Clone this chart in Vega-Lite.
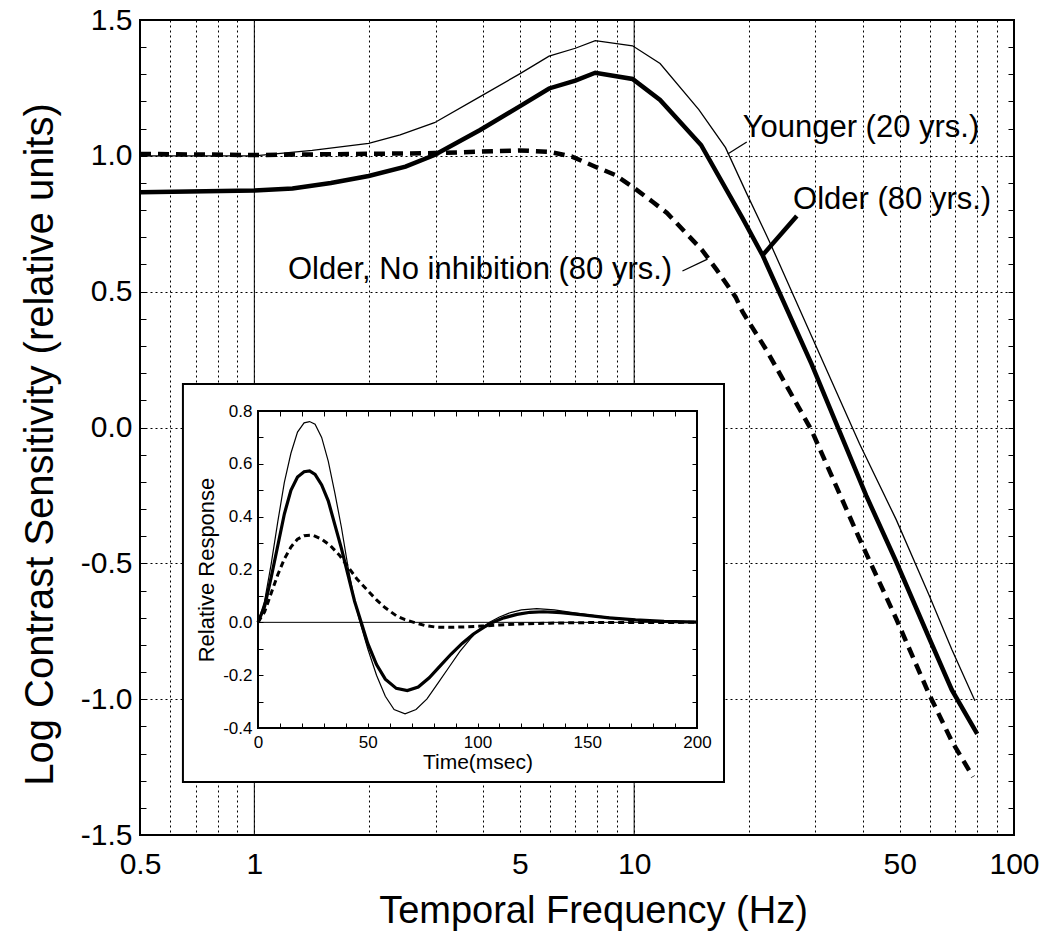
{
  "$schema": "https://vega.github.io/schema/vega-lite/v6.json",
  "width": 874,
  "height": 815,
  "autosize": {"type": "none"},
  "padding": {"left": 140, "top": 20, "right": 36, "bottom": 110},
  "background": "white",
  "config": {
    "view": {"stroke": "black", "strokeWidth": 2},
    "font": "Liberation Sans",
    "axis": {"labelFont": "Liberation Sans", "titleFont": "Liberation Sans", "labelColor": "black", "titleColor": "black", "titleFontWeight": "normal", "tickColor": "black", "domainColor": "black"},
    "text": {"font": "Liberation Sans", "color": "black"}
  },
  "datasets": {
    "csf": [
      {"f": 0.5, "v": 1.0, "s": "younger"}, {"f": 0.7, "v": 1.0, "s": "younger"}, {"f": 1, "v": 1.0, "s": "younger"}, {"f": 1.42, "v": 1.02, "s": "younger"}, {"f": 2.0, "v": 1.046, "s": "younger"}, {"f": 2.42, "v": 1.077, "s": "younger"}, {"f": 2.98, "v": 1.122, "s": "younger"}, {"f": 3.93, "v": 1.218, "s": "younger"}, {"f": 4.97, "v": 1.3, "s": "younger"}, {"f": 5.97, "v": 1.367, "s": "younger"}, {"f": 7.0, "v": 1.396, "s": "younger"}, {"f": 7.9, "v": 1.424, "s": "younger"}, {"f": 9.9, "v": 1.405, "s": "younger"}, {"f": 11.7, "v": 1.34, "s": "younger"}, {"f": 14.8, "v": 1.17, "s": "younger"}, {"f": 17.4, "v": 1.03, "s": "younger"}, {"f": 19.8, "v": 0.86, "s": "younger"}, {"f": 22.7, "v": 0.685, "s": "younger"}, {"f": 29.3, "v": 0.337, "s": "younger"}, {"f": 39.2, "v": -0.06, "s": "younger"}, {"f": 49, "v": -0.34, "s": "younger"}, {"f": 59.7, "v": -0.616, "s": "younger"}, {"f": 68.6, "v": -0.817, "s": "younger"}, {"f": 78.9, "v": -1.006, "s": "younger"},
      {"f": 0.5, "v": 0.866, "s": "older"}, {"f": 1, "v": 0.872, "s": "older"}, {"f": 1.26, "v": 0.88, "s": "older"}, {"f": 1.59, "v": 0.9, "s": "older"}, {"f": 2.0, "v": 0.926, "s": "older"}, {"f": 2.5, "v": 0.96, "s": "older"}, {"f": 2.98, "v": 1.003, "s": "older"}, {"f": 3.93, "v": 1.095, "s": "older"}, {"f": 4.97, "v": 1.18, "s": "older"}, {"f": 5.97, "v": 1.248, "s": "older"}, {"f": 7.0, "v": 1.277, "s": "older"}, {"f": 7.9, "v": 1.306, "s": "older"}, {"f": 9.9, "v": 1.283, "s": "older"}, {"f": 11.7, "v": 1.206, "s": "older"}, {"f": 15.0, "v": 1.04, "s": "older"}, {"f": 19.3, "v": 0.77, "s": "older"}, {"f": 21.8, "v": 0.633, "s": "older"}, {"f": 29.3, "v": 0.234, "s": "older"}, {"f": 40.8, "v": -0.25, "s": "older"}, {"f": 49, "v": -0.495, "s": "older"}, {"f": 59.7, "v": -0.773, "s": "older"}, {"f": 68.6, "v": -0.966, "s": "older"}, {"f": 80, "v": -1.128, "s": "older"},
      {"f": 0.5, "v": 1.007, "s": "noinh"}, {"f": 1, "v": 1.003, "s": "noinh"}, {"f": 2.98, "v": 1.01, "s": "noinh"}, {"f": 4.97, "v": 1.02, "s": "noinh"}, {"f": 5.97, "v": 1.015, "s": "noinh"}, {"f": 6.86, "v": 0.997, "s": "noinh"}, {"f": 7.9, "v": 0.96, "s": "noinh"}, {"f": 8.9, "v": 0.93, "s": "noinh"}, {"f": 9.9, "v": 0.886, "s": "noinh"}, {"f": 11.2, "v": 0.83, "s": "noinh"}, {"f": 12.2, "v": 0.79, "s": "noinh"}, {"f": 13.7, "v": 0.715, "s": "noinh"}, {"f": 15.1, "v": 0.653, "s": "noinh"}, {"f": 16.5, "v": 0.58, "s": "noinh"}, {"f": 18.5, "v": 0.48, "s": "noinh"}, {"f": 19.3, "v": 0.425, "s": "noinh"}, {"f": 22.3, "v": 0.285, "s": "noinh"}, {"f": 29.3, "v": -0.01, "s": "noinh"}, {"f": 39.2, "v": -0.41, "s": "noinh"}, {"f": 49, "v": -0.705, "s": "noinh"}, {"f": 59.7, "v": -0.98, "s": "noinh"}, {"f": 68.6, "v": -1.155, "s": "noinh"}, {"f": 78, "v": -1.286, "s": "noinh"}
    ],
    "irf": [
      {"t": 0, "r": 0, "s": "younger"}, {"t": 3, "r": 0.08, "s": "younger"}, {"t": 6, "r": 0.22, "s": "younger"}, {"t": 9, "r": 0.38, "s": "younger"}, {"t": 12, "r": 0.53, "s": "younger"}, {"t": 15, "r": 0.64, "s": "younger"}, {"t": 18, "r": 0.72, "s": "younger"}, {"t": 21, "r": 0.755, "s": "younger"}, {"t": 23.5, "r": 0.76, "s": "younger"}, {"t": 26, "r": 0.75, "s": "younger"}, {"t": 29, "r": 0.7, "s": "younger"}, {"t": 32, "r": 0.61, "s": "younger"}, {"t": 35, "r": 0.49, "s": "younger"}, {"t": 38, "r": 0.36, "s": "younger"}, {"t": 41, "r": 0.21, "s": "younger"}, {"t": 44, "r": 0.08, "s": "younger"}, {"t": 46.5, "r": 0, "s": "younger"}, {"t": 50, "r": -0.1, "s": "younger"}, {"t": 54, "r": -0.2, "s": "younger"}, {"t": 58, "r": -0.28, "s": "younger"}, {"t": 62, "r": -0.33, "s": "younger"}, {"t": 67, "r": -0.346, "s": "younger"}, {"t": 72, "r": -0.33, "s": "younger"}, {"t": 77, "r": -0.29, "s": "younger"}, {"t": 82, "r": -0.23, "s": "younger"}, {"t": 87, "r": -0.17, "s": "younger"}, {"t": 92, "r": -0.11, "s": "younger"}, {"t": 97, "r": -0.06, "s": "younger"}, {"t": 101, "r": -0.025, "s": "younger"}, {"t": 105.5, "r": 0, "s": "younger"}, {"t": 110, "r": 0.02, "s": "younger"}, {"t": 115, "r": 0.037, "s": "younger"}, {"t": 120, "r": 0.047, "s": "younger"}, {"t": 127, "r": 0.052, "s": "younger"}, {"t": 135, "r": 0.047, "s": "younger"}, {"t": 145, "r": 0.035, "s": "younger"}, {"t": 155, "r": 0.024, "s": "younger"}, {"t": 165, "r": 0.015, "s": "younger"}, {"t": 175, "r": 0.008, "s": "younger"}, {"t": 185, "r": 0.004, "s": "younger"}, {"t": 200, "r": 0.001, "s": "younger"},
      {"t": 0, "r": 0, "s": "older"}, {"t": 3, "r": 0.06, "s": "older"}, {"t": 6, "r": 0.17, "s": "older"}, {"t": 9, "r": 0.29, "s": "older"}, {"t": 12, "r": 0.41, "s": "older"}, {"t": 15, "r": 0.5, "s": "older"}, {"t": 18, "r": 0.55, "s": "older"}, {"t": 21, "r": 0.57, "s": "older"}, {"t": 23.5, "r": 0.573, "s": "older"}, {"t": 26, "r": 0.56, "s": "older"}, {"t": 29, "r": 0.52, "s": "older"}, {"t": 32, "r": 0.46, "s": "older"}, {"t": 35, "r": 0.37, "s": "older"}, {"t": 38, "r": 0.28, "s": "older"}, {"t": 41, "r": 0.18, "s": "older"}, {"t": 44, "r": 0.08, "s": "older"}, {"t": 47, "r": 0, "s": "older"}, {"t": 50, "r": -0.08, "s": "older"}, {"t": 54, "r": -0.16, "s": "older"}, {"t": 58, "r": -0.215, "s": "older"}, {"t": 63, "r": -0.25, "s": "older"}, {"t": 68, "r": -0.258, "s": "older"}, {"t": 73, "r": -0.245, "s": "older"}, {"t": 78, "r": -0.21, "s": "older"}, {"t": 83, "r": -0.165, "s": "older"}, {"t": 88, "r": -0.12, "s": "older"}, {"t": 93, "r": -0.08, "s": "older"}, {"t": 98, "r": -0.045, "s": "older"}, {"t": 103, "r": -0.018, "s": "older"}, {"t": 107, "r": 0, "s": "older"}, {"t": 112, "r": 0.017, "s": "older"}, {"t": 118, "r": 0.03, "s": "older"}, {"t": 124, "r": 0.038, "s": "older"}, {"t": 130, "r": 0.04, "s": "older"}, {"t": 138, "r": 0.037, "s": "older"}, {"t": 148, "r": 0.028, "s": "older"}, {"t": 160, "r": 0.017, "s": "older"}, {"t": 172, "r": 0.009, "s": "older"}, {"t": 185, "r": 0.004, "s": "older"}, {"t": 200, "r": 0.001, "s": "older"},
      {"t": 0, "r": 0, "s": "noinh"}, {"t": 3, "r": 0.04, "s": "noinh"}, {"t": 6, "r": 0.11, "s": "noinh"}, {"t": 9, "r": 0.18, "s": "noinh"}, {"t": 12, "r": 0.24, "s": "noinh"}, {"t": 15, "r": 0.285, "s": "noinh"}, {"t": 18, "r": 0.315, "s": "noinh"}, {"t": 21, "r": 0.328, "s": "noinh"}, {"t": 25, "r": 0.33, "s": "noinh"}, {"t": 29, "r": 0.315, "s": "noinh"}, {"t": 33, "r": 0.29, "s": "noinh"}, {"t": 37, "r": 0.255, "s": "noinh"}, {"t": 41, "r": 0.21, "s": "noinh"}, {"t": 45, "r": 0.165, "s": "noinh"}, {"t": 50, "r": 0.12, "s": "noinh"}, {"t": 54, "r": 0.085, "s": "noinh"}, {"t": 58, "r": 0.055, "s": "noinh"}, {"t": 63, "r": 0.025, "s": "noinh"}, {"t": 67, "r": 0.01, "s": "noinh"}, {"t": 71, "r": 0, "s": "noinh"}, {"t": 76, "r": -0.012, "s": "noinh"}, {"t": 81, "r": -0.018, "s": "noinh"}, {"t": 88, "r": -0.019, "s": "noinh"}, {"t": 95, "r": -0.017, "s": "noinh"}, {"t": 102, "r": -0.014, "s": "noinh"}, {"t": 110, "r": -0.01, "s": "noinh"}, {"t": 120, "r": -0.006, "s": "noinh"}, {"t": 133, "r": -0.003, "s": "noinh"}, {"t": 150, "r": -0.001, "s": "noinh"}, {"t": 200, "r": 0, "s": "noinh"}
    ],
    "decades": [{"f": 1}, {"f": 10}],
    "notes": [
      {"f": 19.3, "v": 1.1025, "label": "Younger (20 yrs.)"},
      {"f": 26.2, "v": 0.8375, "label": "Older (80 yrs.)"},
      {"f": 1.226, "v": 0.58, "label": "Older, No inhibition (80 yrs.)"}
    ],
    "leaders": [
      {"who": "younger", "f": 17.63, "v": 1.0068, "f2": 19.79, "v2": 1.051},
      {"who": "older", "f": 21.8, "v": 0.635, "f2": 26.8, "v2": 0.7786},
      {"who": "noinh", "f": 13.4, "v": 0.576, "f2": 15.6, "v2": 0.62}
    ],
    "insetBox": [{"t0": -34.2, "t1": 212.3, "r0": -0.604, "r1": 0.902}],
    "insetFrame": [{"t0": 0, "t1": 200, "r0": -0.4, "r1": 0.8}],
    "zeroLine": [{"t0": 0, "t1": 200, "r": 0}]
  },
  "layer": [
    {
      "layer": [
        {
          "data": {"name": "decades"},
          "mark": {"type": "rule", "stroke": "black", "strokeWidth": 1},
          "encoding": {
            "x": {"field": "f", "type": "quantitative", "scale": {"type": "log", "domain": [0.5, 100], "nice": false, "zero": false},
              "axis": {"orient": "bottom", "values": [0.5, 0.6, 0.7, 0.8, 0.9, 1, 2, 3, 4, 5, 6, 7, 8, 9, 10, 20, 30, 40, 50, 60, 70, 80, 90, 100],
                "labelExpr": "indexof([0.5, 1, 5, 10, 50, 100], datum.value) >= 0 ? format(datum.value, '~g') : ''",
                "ticks": false, "domain": false, "grid": true, "gridColor": "black", "gridDash": [2, 3], "gridWidth": 1, "gridOpacity": 1,
                "labelFontSize": 30, "labelPadding": 14, "labelOverlap": false, "labelFlush": false, "labelBound": false,
                "title": "Temporal Frequency (Hz)", "titleFontSize": 38, "titlePadding": 13, "titleX": 453}}
          }
        },
        {
          "data": {"name": "csf"},
          "transform": [{"filter": "datum.s == 'younger'"}],
          "mark": {"type": "line", "stroke": "black", "strokeWidth": 1.3},
          "encoding": {
            "x": {"field": "f", "type": "quantitative", "scale": {"type": "log", "domain": [0.5, 100], "nice": false, "zero": false}},
            "y": {"field": "v", "type": "quantitative", "scale": {"domain": [-1.5, 1.5], "nice": false, "zero": false},
              "axis": {"orient": "left", "values": [-1.5, -1.4, -1.3, -1.2, -1.1, -1.0, -0.9, -0.8, -0.7, -0.6, -0.5, -0.4, -0.3, -0.2, -0.1, 0, 0.1, 0.2, 0.3, 0.4, 0.5, 0.6, 0.7, 0.8, 0.9, 1.0, 1.1, 1.2, 1.3, 1.4, 1.5],
                "labelExpr": "abs(datum.value * 2 - round(datum.value * 2)) < 0.01 ? replace(format(datum.value, '.1f'), '\u2212', '-') : ''",
                "tickSize": -6, "tickWidth": 1, "domain": false, "grid": true, "gridColor": "black", "gridDash": [2, 3], "gridWidth": 1,
                "gridOpacity": {"condition": {"test": "abs(datum.value * 2 - round(datum.value * 2)) < 0.01", "value": 1}, "value": 0},
                "labelFontSize": 30, "labelPadding": 14, "labelOverlap": false, "labelFlush": false, "labelBound": false,
                "title": "Log Contrast Sensitivity (relative units)", "titleFontSize": 40, "titlePadding": 20, "titleY": 424}}
          }
        },
        {
          "data": {"name": "csf"},
          "transform": [{"filter": "datum.s == 'older'"}],
          "mark": {"type": "line", "stroke": "black", "strokeWidth": 4.5},
          "encoding": {
            "x": {"field": "f", "type": "quantitative", "scale": {"type": "log", "domain": [0.5, 100], "nice": false, "zero": false}},
            "y": {"field": "v", "type": "quantitative", "scale": {"domain": [-1.5, 1.5], "nice": false, "zero": false},
              "axis": {"orient": "right", "values": [-1.5, -1.4, -1.3, -1.2, -1.1, -1.0, -0.9, -0.8, -0.7, -0.6, -0.5, -0.4, -0.3, -0.2, -0.1, 0, 0.1, 0.2, 0.3, 0.4, 0.5, 0.6, 0.7, 0.8, 0.9, 1.0, 1.1, 1.2, 1.3, 1.4, 1.5],
                "labels": false, "tickSize": -6, "tickWidth": 1, "domain": false, "grid": false, "title": null}}
          }
        },
        {
          "data": {"name": "csf"},
          "transform": [{"filter": "datum.s == 'noinh'"}],
          "mark": {"type": "line", "stroke": "black", "strokeWidth": 4.5, "strokeDash": [11, 7], "strokeCap": "butt"},
          "encoding": {
            "x": {"field": "f", "type": "quantitative", "scale": {"type": "log", "domain": [0.5, 100], "nice": false, "zero": false}},
            "y": {"field": "v", "type": "quantitative", "scale": {"domain": [-1.5, 1.5], "nice": false, "zero": false}, "axis": null}
          }
        },
        {
          "data": {"name": "notes"},
          "mark": {"type": "text", "align": "left", "baseline": "middle", "fontSize": 31, "font": "Liberation Sans", "color": "black"},
          "encoding": {
            "x": {"field": "f", "type": "quantitative", "scale": {"type": "log", "domain": [0.5, 100], "nice": false, "zero": false}},
            "y": {"field": "v", "type": "quantitative", "scale": {"domain": [-1.5, 1.5], "nice": false, "zero": false}, "axis": null},
            "text": {"field": "label"}
          }
        },
        {
          "data": {"name": "leaders"},
          "transform": [{"filter": "datum.who != 'older'"}],
          "mark": {"type": "rule", "stroke": "black", "strokeWidth": 1.3},
          "encoding": {
            "x": {"field": "f", "type": "quantitative", "scale": {"type": "log", "domain": [0.5, 100], "nice": false, "zero": false}},
            "x2": {"field": "f2"},
            "y": {"field": "v", "type": "quantitative", "scale": {"domain": [-1.5, 1.5], "nice": false, "zero": false}, "axis": null},
            "y2": {"field": "v2"}
          }
        },
        {
          "data": {"name": "leaders"},
          "transform": [{"filter": "datum.who == 'older'"}],
          "mark": {"type": "rule", "stroke": "black", "strokeWidth": 4.5},
          "encoding": {
            "x": {"field": "f", "type": "quantitative", "scale": {"type": "log", "domain": [0.5, 100], "nice": false, "zero": false}},
            "x2": {"field": "f2"},
            "y": {"field": "v", "type": "quantitative", "scale": {"domain": [-1.5, 1.5], "nice": false, "zero": false}, "axis": null},
            "y2": {"field": "v2"}
          }
        }
      ],
      "resolve": {"axis": {"y": "independent"}}
    },
    {
      "layer": [
        {
          "data": {"name": "insetBox"},
          "mark": {"type": "rect", "fill": "white", "stroke": "black", "strokeWidth": 2},
          "encoding": {
            "x": {"field": "t0", "type": "quantitative", "scale": {"domain": [0, 200], "range": [118, 557], "nice": false, "zero": false},
              "axis": {"orient": "bottom", "offset": -107, "zindex": 1, "values": [0, 10, 20, 30, 40, 50, 60, 70, 80, 90, 100, 110, 120, 130, 140, 150, 160, 170, 180, 190, 200],
                "labelExpr": "datum.value % 50 == 0 ? format(datum.value, 'd') : ''",
                "tickSize": -5, "tickWidth": 1, "domain": false, "grid": false, "labelFontSize": 17, "labelPadding": 11, "labelFlush": false, "labelOverlap": false, "labelBound": false,
                "title": "Time(msec)", "titleFontSize": 21, "titlePadding": 1}},
            "x2": {"field": "t1"},
            "y": {"field": "r0", "type": "quantitative", "scale": {"domain": [-0.4, 0.8], "range": [708, 391], "nice": false, "zero": false},
              "axis": {"orient": "left", "offset": -118, "zindex": 1, "values": [-0.4, -0.3, -0.2, -0.1, 0, 0.1, 0.2, 0.3, 0.4, 0.5, 0.6, 0.7, 0.8],
                "labelExpr": "abs(datum.value * 5 - round(datum.value * 5)) < 0.01 ? replace(format(datum.value, '.1f'), '\u2212', '-') : ''",
                "tickSize": -5, "tickWidth": 1, "domain": false, "grid": false, "labelFontSize": 17, "labelPadding": 11, "labelFlush": false, "labelOverlap": false, "labelBound": false,
                "title": "Relative Response", "titleFontSize": 22, "titlePadding": 4}},
            "y2": {"field": "r1"}
          }
        },
        {
          "data": {"name": "zeroLine"},
          "mark": {"type": "rule", "stroke": "black", "strokeWidth": 1},
          "encoding": {
            "x": {"field": "t0", "type": "quantitative", "scale": {"domain": [0, 200], "range": [118, 557], "nice": false, "zero": false}, "axis": null},
            "x2": {"field": "t1"},
            "y": {"field": "r", "type": "quantitative", "scale": {"domain": [-0.4, 0.8], "range": [708, 391], "nice": false, "zero": false}, "axis": null}
          }
        },
        {
          "data": {"name": "irf"},
          "transform": [{"filter": "datum.s == 'younger'"}],
          "mark": {"type": "line", "stroke": "black", "strokeWidth": 1.2},
          "encoding": {
            "x": {"field": "t", "type": "quantitative", "scale": {"domain": [0, 200], "range": [118, 557], "nice": false, "zero": false}, "axis": null},
            "y": {"field": "r", "type": "quantitative", "scale": {"domain": [-0.4, 0.8], "range": [708, 391], "nice": false, "zero": false}, "axis": null}
          }
        },
        {
          "data": {"name": "irf"},
          "transform": [{"filter": "datum.s == 'older'"}],
          "mark": {"type": "line", "stroke": "black", "strokeWidth": 3.2},
          "encoding": {
            "x": {"field": "t", "type": "quantitative", "scale": {"domain": [0, 200], "range": [118, 557], "nice": false, "zero": false}, "axis": null},
            "y": {"field": "r", "type": "quantitative", "scale": {"domain": [-0.4, 0.8], "range": [708, 391], "nice": false, "zero": false}, "axis": null}
          }
        },
        {
          "data": {"name": "irf"},
          "transform": [{"filter": "datum.s == 'noinh'"}],
          "mark": {"type": "line", "stroke": "black", "strokeWidth": 3, "strokeDash": [6, 4], "strokeCap": "butt"},
          "encoding": {
            "x": {"field": "t", "type": "quantitative", "scale": {"domain": [0, 200], "range": [118, 557], "nice": false, "zero": false}, "axis": null},
            "y": {"field": "r", "type": "quantitative", "scale": {"domain": [-0.4, 0.8], "range": [708, 391], "nice": false, "zero": false}, "axis": null}
          }
        },
        {
          "data": {"name": "insetFrame"},
          "mark": {"type": "rect", "fill": null, "fillOpacity": 0, "stroke": "black", "strokeWidth": 2},
          "encoding": {
            "x": {"field": "t0", "type": "quantitative", "scale": {"domain": [0, 200], "range": [118, 557], "nice": false, "zero": false},
              "axis": {"orient": "top", "offset": -391, "zindex": 1, "values": [0, 10, 20, 30, 40, 50, 60, 70, 80, 90, 100, 110, 120, 130, 140, 150, 160, 170, 180, 190, 200],
                "labels": false, "tickSize": -5, "tickWidth": 1, "domain": false, "grid": false, "title": null}},
            "x2": {"field": "t1"},
            "y": {"field": "r0", "type": "quantitative", "scale": {"domain": [-0.4, 0.8], "range": [708, 391], "nice": false, "zero": false},
              "axis": {"orient": "right", "offset": -317, "zindex": 1, "values": [-0.4, -0.3, -0.2, -0.1, 0, 0.1, 0.2, 0.3, 0.4, 0.5, 0.6, 0.7, 0.8],
                "labels": false, "tickSize": -5, "tickWidth": 1, "domain": false, "grid": false, "title": null}},
            "y2": {"field": "r1"}
          }
        }
      ],
      "resolve": {"axis": {"x": "independent", "y": "independent"}}
    }
  ],
  "resolve": {"scale": {"x": "independent", "y": "independent"}, "axis": {"x": "independent", "y": "independent"}}
}
